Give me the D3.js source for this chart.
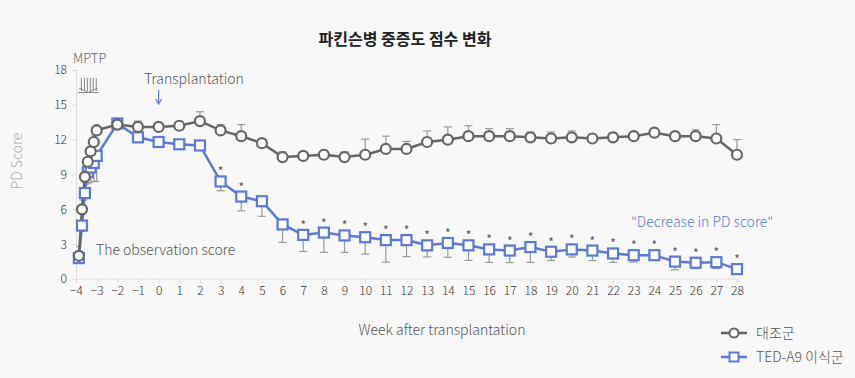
<!DOCTYPE html>
<html><head><meta charset="utf-8">
<script src="https://cdn.jsdelivr.net/npm/d3@7"></script>
<style>
html,body{margin:0;padding:0;background:#f8f8f8;}
svg{display:block;font-family:"Noto Sans CJK KR","Noto Sans",sans-serif;font-weight:300;}
</style></head>
<body><svg id="c" width="855" height="378"></svg>
<script>
const weeks = [-3.86,-3.71,-3.57,-3.43,-3.29,-3.14,-3,-2,-1,0,1,2,3,4,5,6,7,8,9,10,11,12,13,14,15,16,17,18,19,20,21,22,23,24,25,26,27,28];
const controlMean = [2.0,6.0,8.8,10.1,11.0,11.8,12.8,13.3,13.1,13.1,13.2,13.6,12.8,12.3,11.7,10.5,10.6,10.7,10.5,10.7,11.2,11.2,11.8,12.0,12.3,12.3,12.3,12.2,12.1,12.2,12.1,12.2,12.3,12.6,12.3,12.3,12.1,10.7];
const controlErr  = [0.8,0.8,0.9,0.8,0.9,0.6,0.5,0.3,0.5,0.3,0.0,0.8,0.5,1.0,0.0,0.45,0.35,0.37,0.45,1.35,1.1,0.65,0.95,1.1,0.9,0.65,0.65,0.45,0.55,0.55,0.35,0.4,0.0,0.4,0.0,0.55,1.2,1.3];
const tedMean = [1.8,4.6,7.4,9.2,9.6,10.0,10.6,13.4,12.2,11.8,11.6,11.5,8.4,7.1,6.7,4.7,3.8,4.0,3.75,3.6,3.35,3.35,2.9,3.1,2.9,2.55,2.45,2.75,2.35,2.55,2.45,2.2,2.05,2.05,1.5,1.4,1.45,0.85];
const tedErr  = [0.3,0.5,0.6,1.0,1.3,1.6,2.2,0.0,0.45,0.0,0.0,0.0,0.8,1.23,1.3,1.55,1.43,1.7,1.46,1.46,1.9,1.43,1.0,1.23,1.3,1.12,1.03,1.32,0.75,0.66,0.87,0.77,0.6,0.4,0.71,0.51,0.55,0.0];
const significant = [0,0,0,0,0,0,0,0,0,0,0,0,1,1,0,0,1,1,1,1,1,1,1,1,1,1,1,1,1,1,1,1,1,1,1,1,1,1];
const mptpDays = [-3.86,-3.71,-3.57,-3.43,-3.29,-3.14,-3];
const xTicks = [-4,-3,-2,-1,0,1,2,3,4,5,6,7,8,9,10,11,12,13,14,15,16,17,18,19,20,21,22,23,24,25,26,27,28];
const yTicks = [0,3,6,9,12,15,18];
const seriesNames = ["대조군","TED-A9 이식군"];

const svg = d3.select("#c");
const x = d3.scaleLinear().domain([-4,28]).range([76,737]);
const y = d3.scaleLinear().domain([0,18]).range([279,70]);
const gray = "#666", blue = "#5b7bd5", errC = "#9a9a9a";
const FF = "'Noto Sans CJK KR','Noto Sans',sans-serif";

// title
svg.append("text").attr("x",405).attr("y",45).attr("text-anchor","middle")
  .attr("font-size",16).attr("font-weight",700).attr("fill","#222").text("파킨슨병 중증도 점수 변화");

// axes
const yAxis = svg.append("g").attr("transform","translate(76,0)")
  .call(d3.axisLeft(y).tickValues(yTicks).tickSize(4).tickPadding(5));
const xAxis = svg.append("g").attr("transform","translate(0,279)")
  .call(d3.axisBottom(x).tickValues(xTicks).tickSize(4).tickPadding(3).tickFormat(d3.format("d")));
[yAxis,xAxis].forEach(g=>{
  g.select(".domain").attr("stroke","#ddd");
  g.selectAll(".tick line").attr("stroke","#ddd");
  g.selectAll(".tick text").attr("fill","#333").attr("font-size",12)
   .attr("font-family",FF).attr("font-weight",300);
});
xAxis.select(".domain").attr("d","M76,0H737");

svg.append("text").attr("transform","translate(22,161) rotate(-90)").attr("text-anchor","middle")
  .attr("font-size",14).attr("fill","#aaa").text("PD Score");
svg.append("text").attr("x",442).attr("y",335).attr("text-anchor","middle")
  .attr("font-size",14).attr("fill","#555").text("Week after transplantation");

// annotations
svg.append("text").attr("x",73).attr("y",63).attr("font-size",13).attr("fill","#666").text("MPTP");
const mg = svg.append("g").attr("stroke","#888").attr("stroke-width",1).attr("fill","none");
mptpDays.slice(0,6).forEach(d=>{
  const xx = x(d)+2.5;
  mg.append("line").attr("x1",xx).attr("x2",xx).attr("y1",78).attr("y2",91);
});
mg.append("path").attr("d",`M${x(-3.86)},88 L${x(-3.4)},92.5 L${x(-3)+1},88`);
mg.append("line").attr("x1",x(-3.86)-1).attr("x2",x(-3)+2).attr("y1",92.5).attr("y2",92.5);

svg.append("text").attr("x",194).attr("y",84).attr("text-anchor","middle")
  .attr("font-size",14).attr("fill","#555").text("Transplantation");
svg.append("line").attr("x1",x(0)).attr("x2",x(0)).attr("y1",90).attr("y2",103)
  .attr("stroke",blue).attr("stroke-width",1.2);
svg.append("path").attr("d",`M${x(0)-3},99 L${x(0)},104 L${x(0)+3},99`).attr("fill","none")
  .attr("stroke",blue).attr("stroke-width",1.2);
svg.append("text").attr("x",96).attr("y",255).attr("font-size",14).attr("fill","#555").text("The observation score");
svg.append("text").attr("x",631).attr("y",227).attr("font-size",14).attr("fill",blue).text("\"Decrease in PD score\"");

// error bars
const eb = svg.append("g").attr("stroke",errC).attr("stroke-width",1.2);
weeks.forEach((w,i)=>{
  const cap = w < -2.5 ? 2.5 : 4;
  if (controlErr[i] > 0) {
    const y0 = y(controlMean[i]), y1 = y(controlMean[i]+controlErr[i]);
    eb.append("line").attr("x1",x(w)).attr("x2",x(w)).attr("y1",y0).attr("y2",y1);
    eb.append("line").attr("x1",x(w)-cap).attr("x2",x(w)+cap).attr("y1",y1).attr("y2",y1);
  }
  if (tedErr[i] > 0) {
    const y0 = y(tedMean[i]), y1 = y(tedMean[i]-tedErr[i]);
    eb.append("line").attr("x1",x(w)).attr("x2",x(w)).attr("y1",y0).attr("y2",y1);
    eb.append("line").attr("x1",x(w)-cap).attr("x2",x(w)+cap).attr("y1",y1).attr("y2",y1);
  }
});

// lines
const line = arr => d3.line().x((d,i)=>x(weeks[i])).y(d=>y(d))(arr);
svg.append("path").attr("d",line(tedMean)).attr("fill","none").attr("stroke",blue).attr("stroke-width",2.5);
svg.append("path").attr("d",line(controlMean)).attr("fill","none").attr("stroke",gray).attr("stroke-width",2.5);

// markers
svg.append("g").selectAll("rect").data(tedMean).join("rect")
  .attr("x",(d,i)=>x(weeks[i])-5).attr("y",d=>y(d)-5).attr("width",10).attr("height",10)
  .attr("fill","#fff").attr("stroke",blue).attr("stroke-width",2.2);
svg.append("g").selectAll("circle").data(controlMean).join("circle")
  .attr("cx",(d,i)=>x(weeks[i])).attr("cy",d=>y(d)).attr("r",5)
  .attr("fill","#fff").attr("stroke",gray).attr("stroke-width",2.2);

// significance stars
const starIdx = weeks.map((w,i)=>i).filter(i=>significant[i]);
svg.append("g").selectAll("text").data(starIdx).join("text")
  .attr("x",i=>x(weeks[i])).attr("y",i=>y(tedMean[i])-5)
  .attr("text-anchor","middle").attr("font-size",12).attr("font-weight",400).attr("fill","#555").text("*");

// legend
const lg = svg.append("g");
lg.append("line").attr("x1",721).attr("x2",747).attr("y1",333).attr("y2",333).attr("stroke",gray).attr("stroke-width",2.5);
lg.append("circle").attr("cx",734).attr("cy",333).attr("r",4.5).attr("fill","#fff").attr("stroke",gray).attr("stroke-width",2);
lg.append("text").attr("x",756).attr("y",338).attr("font-size",14).attr("fill","#555").text(seriesNames[0]);
lg.append("line").attr("x1",721).attr("x2",747).attr("y1",357).attr("y2",357).attr("stroke",blue).attr("stroke-width",2.5);
lg.append("rect").attr("x",729.5).attr("y",352.5).attr("width",9).attr("height",9).attr("fill","#fff").attr("stroke",blue).attr("stroke-width",2);
lg.append("text").attr("x",756).attr("y",362).attr("font-size",14).attr("fill","#555").text(seriesNames[1]);
</script></body></html>
